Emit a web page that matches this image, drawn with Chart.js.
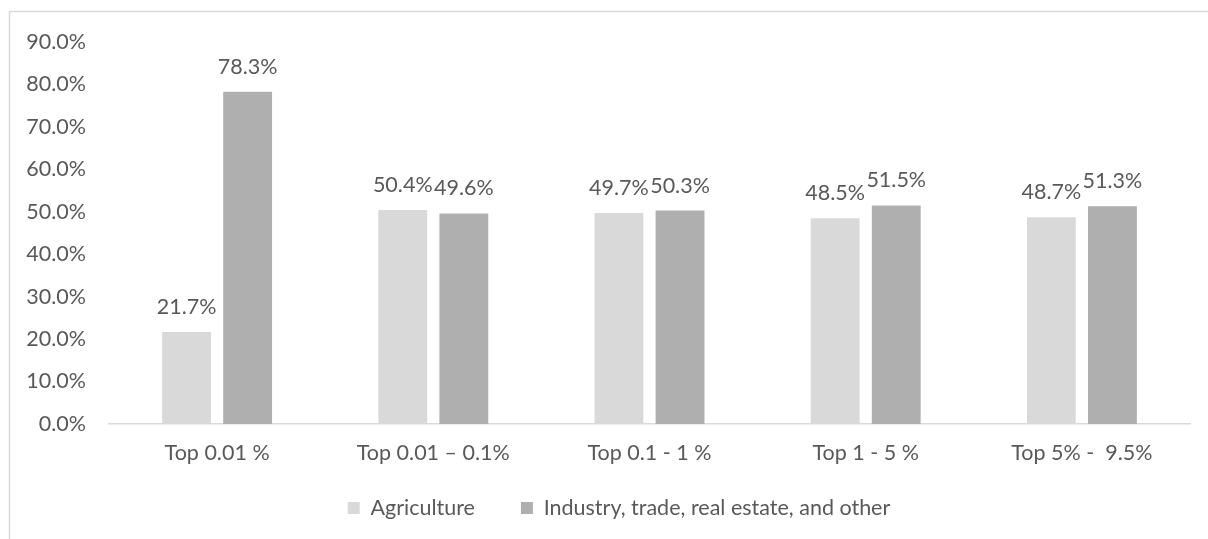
<!DOCTYPE html>
<html>
<head>
<meta charset="utf-8">
<script src="https://cdn.jsdelivr.net/npm/chart.js@4.4.1/dist/chart.umd.min.js"></script>
<style>
  html, body { margin: 0; padding: 0; background: #ffffff; }
  #wrap { width: 1208px; height: 539px; position: relative; }
</style>
</head>
<body>
<div id="wrap"><canvas id="c" width="1208" height="539"></canvas></div>
<script>
const categories = ["Top 0.01 %", "Top 0.01 \u2013 0.1%", "Top 0.1 - 1 %", "Top 1 - 5 %", "Top 5% -  9.5%"];
const agriculture = [21.7, 50.4, 49.7, 48.5, 48.7];
const industry = [78.3, 49.6, 50.3, 51.5, 51.3];
const seriesNames = ["Agriculture", "Industry, trade, real estate, and other"];
const yTicks = [0, 10, 20, 30, 40, 50, 60, 70, 80, 90];

const FONT = "Lato, 'Open Sans', sans-serif";
const FS = 21.5;
const TEXT = "#595959";

const framePlugin = {
  id: 'frame',
  afterLayout(chart) {
    // widen label clip regions so tick labels are not cut
    chart.scales.y.left = 0;
    chart.scales.x.bottom = chart.height;
  },
  beforeDraw(chart) {
    const ctx = chart.ctx;
    ctx.save();
    ctx.fillStyle = '#ffffff';
    ctx.fillRect(0, 0, chart.width, chart.height);
    ctx.strokeStyle = '#d9d9d9';
    ctx.lineWidth = 1.5;
    ctx.strokeRect(9.5, 11.5, chart.width + 50, chart.height + 50);
    ctx.restore();
  }
};

const labelPlugin = {
  id: 'barLabels',
  afterDatasetsDraw(chart) {
    const ctx = chart.ctx;
    ctx.save();
    ctx.font = FS + "px " + FONT;
    ctx.fillStyle = TEXT;
    ctx.textAlign = 'center';
    ctx.textBaseline = 'alphabetic';
    chart.data.datasets.forEach((ds, di) => {
      const meta = chart.getDatasetMeta(di);
      meta.data.forEach((el, i) => {
        ctx.fillText(ds.data[i].toFixed(1) + '%', el.x, el.y - 18);
      });
    });
    ctx.restore();
  }
};

new Chart(document.getElementById('c'), {
  type: 'bar',
  data: {
    labels: categories,
    datasets: [
      { label: seriesNames[0], data: agriculture, backgroundColor: '#d9d9d9', categoryPercentage: 0.565, barPercentage: 0.8 },
      { label: seriesNames[1], data: industry, backgroundColor: '#afafaf', categoryPercentage: 0.565, barPercentage: 0.8 }
    ]
  },
  options: {
    responsive: false,
    animation: false,
    devicePixelRatio: 1,
    layout: { padding: { left: 48, right: 18, top: 42, bottom: 10.25 } },
    plugins: {
      legend: {
        position: 'bottom',
        labels: {
          font: { family: FONT, size: FS },
          color: TEXT,
          boxWidth: 12,
          boxHeight: 12,
          padding: 46
        }
      },
      tooltip: { enabled: false }
    },
    scales: {
      x: {
        grid: { display: false, drawTicks: false },
        border: { display: true, color: '#d9d9d9', width: 1.5 },
        ticks: { font: { family: FONT, size: FS }, color: TEXT, padding: 16, maxRotation: 0, autoSkip: false },
        afterFit(scale) { scale.height = 27.25; }
      },
      y: {
        min: 0,
        max: 90,
        grid: { display: false, drawTicks: false },
        border: { display: false },
        afterBuildTicks(scale) { scale.ticks = yTicks.map(v => ({ value: v })); },
        ticks: {
          font: { family: FONT, size: FS },
          color: TEXT,
          padding: 23,
          callback: (v) => Number(v).toFixed(1) + '%'
        },
        afterFit(scale) { scale.width = 61; }
      }
    }
  },
  plugins: [framePlugin, labelPlugin]
});
</script>
</body>
</html>
